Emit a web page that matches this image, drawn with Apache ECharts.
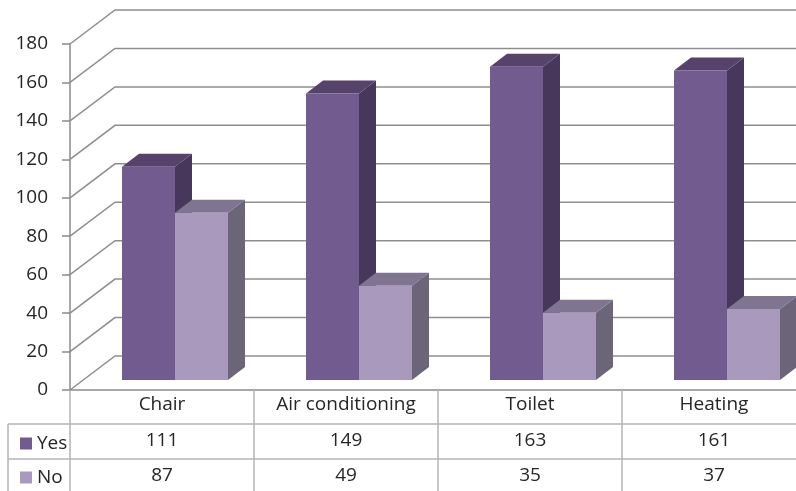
<!DOCTYPE html>
<html>
<head>
<meta charset="utf-8">
<script src="https://cdn.jsdelivr.net/npm/echarts@6/dist/echarts.min.js"></script>
<style>
  html, body { margin: 0; padding: 0; background: #fff; }
  #main { width: 796px; height: 491px; }
</style>
</head>
<body>
<div id="main"></div>
<script>
var categories = ['Chair', 'Air conditioning', 'Toilet', 'Heating'];
var yesValues = [111, 149, 163, 161];
var noValues = [87, 49, 35, 37];
var yTicks = [0, 20, 40, 60, 80, 100, 120, 140, 160, 180];

var myChart = echarts.init(document.getElementById('main'));

var FONT = 'Open Sans';
var FS = 19;
var TXT = '#262626';
// depth of the walls and of the bars (px)
var wallDx = 45, wallDy = -34;
var frontDx = 13, frontDy = -10;
var backDx = 30, backDy = -23;

var colors = {
    Yes: { front: '#725b8f', top: '#57426b', side: '#47385b' },
    No: { front: '#a899bd', top: '#7f7591', side: '#6c657a' }
};

function makeBar(name, pos) {
    return function (params, api) {
        var top = api.coord([api.value(0), api.value(1)]);
        var base = api.coord([api.value(0), 0]);
        var band = api.size([1, 0])[0];
        var w = band * 0.288;
        var xl = pos === 0 ? top[0] - w : top[0];
        var xr = xl + w;
        var yt = top[1], y0 = base[1];
        var c = colors[name];
        return {
            type: 'group',
            children: [
                {
                    type: 'polygon',
                    shape: { points: [[xr + frontDx, yt + frontDy], [xr + backDx, yt + backDy], [xr + backDx, y0 + backDy], [xr + frontDx, y0 + frontDy]] },
                    style: { fill: c.side }
                },
                {
                    type: 'polygon',
                    shape: { points: [[xl + frontDx, yt + frontDy], [xr + frontDx, yt + frontDy], [xr + backDx, yt + backDy], [xl + backDx, yt + backDy]] },
                    style: { fill: c.top }
                },
                {
                    type: 'rect',
                    shape: { x: xl + frontDx, y: yt + frontDy, width: w, height: y0 - yt },
                    style: { fill: c.front }
                }
            ]
        };
    };
}

var wallData = yTicks.map(function (v) { return [0, v]; });
var yesData = yesValues.map(function (v, i) { return [i, v]; });
var noData = noValues.map(function (v, i) { return [i, v]; });
var tableData = categories.map(function (c, i) { return [i, yesValues[i], noValues[i]]; });

myChart.setOption({
    animation: false,
    textStyle: { fontFamily: FONT },
    grid: {
        left: 70,
        width: 736,
        top: 44,
        bottom: 101,
        outerBoundsMode: 'none'
    },
    legend: [
        {
            data: ['Yes'],
            left: 15,
            top: 429,
            icon: 'rect',
            itemWidth: 12,
            itemHeight: 12,
            selectedMode: false,
            textStyle: { fontFamily: FONT, fontSize: FS, color: TXT }
        },
        {
            data: ['No'],
            left: 15,
            top: 463,
            icon: 'rect',
            itemWidth: 12,
            itemHeight: 12,
            selectedMode: false,
            textStyle: { fontFamily: FONT, fontSize: FS, color: TXT }
        }
    ],
    xAxis: {
        type: 'category',
        data: categories,
        axisLine: { lineStyle: { color: '#8a8a8a', width: 1.5 } },
        axisTick: { show: true, length: 101, lineStyle: { color: '#b4b4b4', width: 1.5 } },
        axisLabel: { fontFamily: FONT, fontSize: FS, color: TXT, margin: 5 },
        splitLine: { show: false }
    },
    yAxis: {
        type: 'value',
        min: yTicks[0],
        max: yTicks[yTicks.length - 1],
        interval: yTicks[1] - yTicks[0],
        axisLine: { show: true, lineStyle: { color: '#8a8a8a', width: 1.5 } },
        axisTick: { show: true, length: 8, lineStyle: { color: '#8a8a8a', width: 1.5 } },
        axisLabel: { fontFamily: FONT, fontSize: FS, color: TXT, margin: 22 },
        splitLine: { show: false }
    },
    graphic: [
        { type: 'line', shape: { x1: 8, y1: 424, x2: 796, y2: 424 }, style: { stroke: '#b4b4b4', lineWidth: 1.5 } },
        { type: 'line', shape: { x1: 8, y1: 459, x2: 796, y2: 459 }, style: { stroke: '#b4b4b4', lineWidth: 1.5 } },
        { type: 'line', shape: { x1: 8, y1: 424, x2: 8, y2: 491 }, style: { stroke: '#b4b4b4', lineWidth: 1.5 } }
    ],
    series: [
        {
            name: 'walls',
            type: 'custom',
            data: wallData,
            encode: { x: 0, y: 1 },
            silent: true,
            renderItem: function (params, api) {
                var p = api.coord([0, api.value(1)]);
                var x0 = params.coordSys.x;
                var x1 = params.coordSys.x + params.coordSys.width;
                return {
                    type: 'polyline',
                    shape: { points: [[x0, p[1]], [x0 + wallDx, p[1] + wallDy], [x1, p[1] + wallDy]] },
                    style: { stroke: '#8e8e8e', lineWidth: 1.5, fill: null }
                };
            }
        },
        {
            name: 'Yes',
            type: 'custom',
            data: yesData,
            encode: { x: 0, y: 1 },
            itemStyle: { color: colors.Yes.front },
            renderItem: makeBar('Yes', 0)
        },
        {
            name: 'No',
            type: 'custom',
            data: noData,
            encode: { x: 0, y: 1 },
            itemStyle: { color: colors.No.front },
            renderItem: makeBar('No', 1)
        },
        {
            name: 'table',
            type: 'custom',
            data: tableData,
            encode: { x: 0, y: 1 },
            silent: true,
            renderItem: function (params, api) {
                var x = api.coord([api.value(0), 0])[0];
                var yb = params.coordSys.y + params.coordSys.height;
                return {
                    type: 'group',
                    children: [
                        {
                            type: 'text',
                            style: { text: String(api.value(1)), x: x, y: yb + 51, align: 'center', verticalAlign: 'middle', fontFamily: FONT, fontSize: FS, fill: TXT }
                        },
                        {
                            type: 'text',
                            style: { text: String(api.value(2)), x: x, y: yb + 86, align: 'center', verticalAlign: 'middle', fontFamily: FONT, fontSize: FS, fill: TXT }
                        }
                    ]
                };
            }
        }
    ]
});
</script>
</body>
</html>
